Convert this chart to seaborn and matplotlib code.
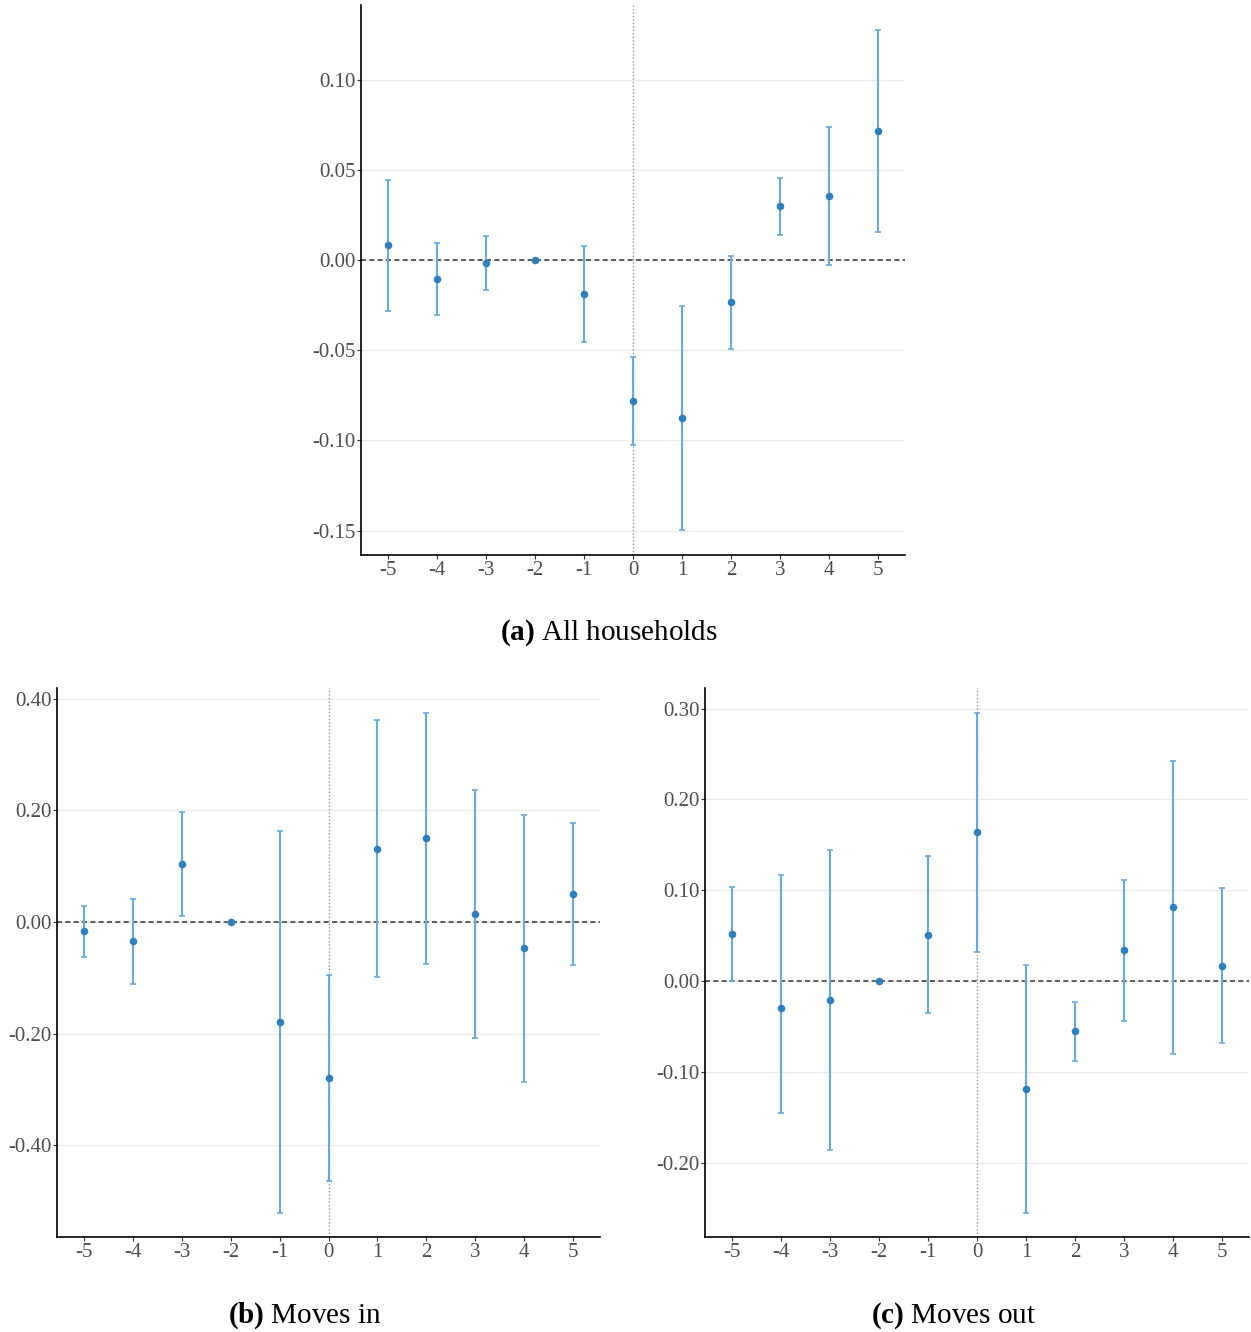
import numpy as np
import pandas as pd
import matplotlib
matplotlib.use("Agg")
import matplotlib.pyplot as plt
import seaborn as sns

sns.set_style("white")
plt.rcParams['font.family'] = ['Liberation Serif', 'DejaVu Serif']
plt.rcParams['mathtext.fontset'] = 'custom'
plt.rcParams['mathtext.rm'] = 'Liberation Serif'
plt.rcParams['mathtext.bf'] = 'Liberation Serif:bold'
plt.rcParams['axes.unicode_minus'] = False

periods = [-5, -4, -3, -2, -1, 0, 1, 2, 3, 4, 5]

# (a) All households
est_a = [0.0083, -0.0105, -0.0017, 0.0, -0.0188, -0.0782, -0.0876, -0.0233, 0.0299, 0.0355, 0.0715]
hi_a = [0.0443, 0.0094, 0.0133, np.nan, 0.0078, -0.0538, -0.0255, 0.0022, 0.0455, 0.0737, 0.1275]
lo_a = [-0.0283, -0.0305, -0.0166, np.nan, -0.0455, -0.1026, -0.1497, -0.0493, 0.0139, -0.0028, 0.0155]

# (b) Moves in
est_b = [-0.016, -0.034, 0.104, 0.0, -0.179, -0.280, 0.131, 0.151, 0.0143, -0.0466, 0.050]
hi_b = [0.0287, 0.0413, 0.197, np.nan, 0.163, -0.095, 0.362, 0.375, 0.237, 0.192, 0.178]
lo_b = [-0.0628, -0.111, 0.0108, np.nan, -0.522, -0.465, -0.0987, -0.0753, -0.208, -0.287, -0.077]

# (c) Moves out
est_c = [0.0518, -0.0297, -0.0209, 0.0, 0.0507, 0.164, -0.119, -0.055, 0.0341, 0.0815, 0.0165]
hi_c = [0.1035, 0.1167, 0.144, np.nan, 0.1377, 0.295, 0.0176, -0.023, 0.111, 0.242, 0.102]
lo_c = [0.0, -0.145, -0.186, np.nan, -0.0352, 0.032, -0.2555, -0.088, -0.044, -0.080, -0.068]

pt_color = '#2f7fbf'
ci_color = '#6aaad9'

fig = plt.figure(figsize=(12.51, 13.32), dpi=100)
W, H = 1251, 1332

def add_ax(l, r, t, b):
    return fig.add_axes([l / W, 1 - b / H, (r - l) / W, (b - t) / H])

def panel(ax, est, lo, hi, ylim, yticks):
    df = pd.DataFrame({'t': periods, 'b': est, 'lo': lo, 'hi': hi})
    ci = df.dropna()
    ax.axhline(0, color='#444444', ls=(0, (3, 2)), lw=1.2, zorder=1)
    ax.axvline(0, color='#999999', ls=(0, (1, 1.5)), lw=1.0, zorder=1)
    ax.errorbar(ci['t'], ci['b'], yerr=[ci['b'] - ci['lo'], ci['hi'] - ci['b']],
                fmt='none', ecolor=ci_color, elinewidth=1.5, capsize=2.5, capthick=1.2, zorder=2)
    sns.scatterplot(data=df, x='t', y='b', ax=ax, color=pt_color, s=30,
                    edgecolor=pt_color, linewidth=0, zorder=3)
    ax.set_xlim(-5.55, 5.55)
    ax.set_ylim(*ylim)
    ax.set_xticks(periods)
    ax.set_yticks(yticks)
    ax.set_yticklabels([f"{v:.2f}" for v in yticks])
    ax.yaxis.grid(True, color='#ebebeb', lw=1)
    ax.xaxis.grid(False)
    ax.set_xlabel('')
    ax.set_ylabel('')
    for s in ['top', 'right']:
        ax.spines[s].set_visible(False)
    for s in ['left', 'bottom']:
        ax.spines[s].set_color('black')
        ax.spines[s].set_linewidth(1.2)
    ax.tick_params(axis='y', length=3, width=0.8, color='#333333', labelsize=15,
                   labelcolor='#4d4d4d', pad=1, left=True)
    ax.tick_params(axis='x', length=3, width=0.8, color='#333333', labelsize=15,
                   labelcolor='#4d4d4d', pad=1, bottom=True)

ax_a = add_ax(361, 905, 5, 555)
panel(ax_a, est_a, lo_a, hi_a, (-0.1635, 0.1413), [-0.15, -0.10, -0.05, 0.00, 0.05, 0.10])

ax_b = add_ax(57, 600, 688, 1237)
panel(ax_b, est_b, lo_b, hi_b, (-0.565, 0.4197), [-0.40, -0.20, 0.00, 0.20, 0.40])

ax_c = add_ax(705, 1249, 688, 1237)
panel(ax_c, est_c, lo_c, hi_c, (-0.282, 0.3227), [-0.20, -0.10, 0.00, 0.10, 0.20, 0.30])

fig.text(609 / W, 1 - 633 / H, r"$\bf{(a)}$ All households", ha='center', va='center',
         fontsize=21, color='black')
fig.text(305 / W, 1 - 1316 / H, r"$\bf{(b)}$ Moves in", ha='center', va='center',
         fontsize=21, color='black')
fig.text(954 / W, 1 - 1316 / H, r"$\bf{(c)}$ Moves out", ha='center', va='center',
         fontsize=21, color='black')

fig.savefig('out.png', dpi=100)
